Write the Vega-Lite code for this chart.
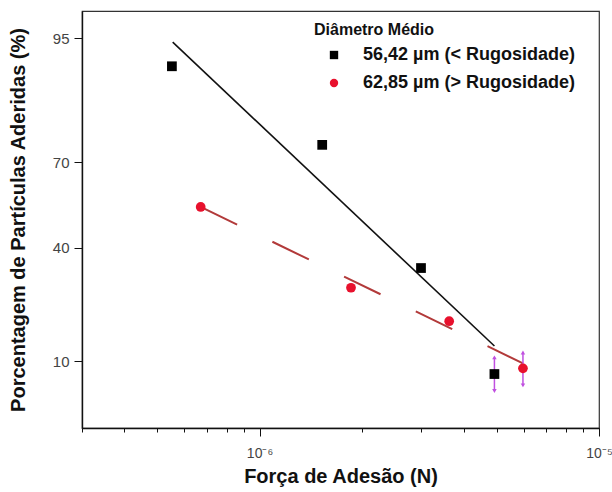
{
  "$schema": "https://vega.github.io/schema/vega-lite/v6.json",
  "width": 517,
  "height": 417,
  "autosize": {"type": "none"},
  "padding": {"left": 82, "top": 11, "right": 13, "bottom": 64},
  "background": "white",
  "config": {
    "font": "Liberation Sans",
    "view": {"stroke": "#333", "strokeWidth": 1.2},
    "legend": {
      "orient": "none",
      "legendX": 232,
      "legendY": 11,
      "titleFontSize": 16,
      "titleFontWeight": "bold",
      "titleColor": "#111",
      "labelFontSize": 18,
      "labelColor": "#111",
      "labelFontWeight": "bold",
      "labelLimit": 0,
      "symbolOffset": 11,
      "labelOffset": 20,
      "rowPadding": 10,
      "titlePadding": 8,
      "symbolSize": 70,
      "symbolStrokeWidth": 0
    }
  },
  "datasets": {
    "points": [
      {"serie": "56,42 µm (< Rugosidade)", "forca": 5.52e-7, "perc": 91.7},
      {"serie": "56,42 µm (< Rugosidade)", "forca": 1.53e-6, "perc": 74.9},
      {"serie": "56,42 µm (< Rugosidade)", "forca": 2.99e-6, "perc": 33.2},
      {"serie": "56,42 µm (< Rugosidade)", "forca": 4.92e-6, "perc": 8.2},
      {"serie": "62,85 µm (> Rugosidade)", "forca": 6.71e-7, "perc": 54.6},
      {"serie": "62,85 µm (> Rugosidade)", "forca": 1.86e-6, "perc": 27.1},
      {"serie": "62,85 µm (> Rugosidade)", "forca": 3.62e-6, "perc": 18.0},
      {"serie": "62,85 µm (> Rugosidade)", "forca": 5.97e-6, "perc": 9.0}
    ],
    "fits": [
      {"serie": "a", "forca": 5.55e-7, "perc": 94.6},
      {"serie": "a", "forca": 4.92e-6, "perc": 12.8},
      {"serie": "b", "forca": 6.71e-7, "perc": 54.6},
      {"serie": "b", "forca": 5.97e-6, "perc": 9.7}
    ],
    "errs": [
      {"forca": 4.92e-6, "lo": 6.1, "hi": 10.7},
      {"forca": 5.97e-6, "lo": 6.7, "hi": 11.6}
    ]
  },
  "layer": [
    {
      "data": {"name": "fits"},
      "transform": [{"filter": "datum.serie == 'a'"}],
      "mark": {"type": "line", "color": "#111", "strokeWidth": 1.6},
      "encoding": {
        "x": {"field": "forca", "type": "quantitative"},
        "y": {"field": "perc", "type": "quantitative"}
      }
    },
    {
      "data": {"name": "fits"},
      "transform": [{"filter": "datum.serie == 'b'"}],
      "mark": {"type": "line", "color": "#b23a3a", "strokeWidth": 2, "strokeDash": [40.5, 39.2]},
      "encoding": {
        "x": {"field": "forca", "type": "quantitative"},
        "y": {"field": "perc", "type": "quantitative"}
      }
    },
    {
      "data": {"name": "errs"},
      "mark": {"type": "rule", "color": "#c050e0", "strokeWidth": 1.5},
      "encoding": {
        "x": {"field": "forca", "type": "quantitative"},
        "y": {"field": "lo", "type": "quantitative"},
        "y2": {"field": "hi"}
      }
    },
    {
      "data": {"name": "errs"},
      "mark": {"type": "point", "shape": "triangle-up", "filled": true, "color": "#c050e0", "size": 20, "opacity": 1},
      "encoding": {
        "x": {"field": "forca", "type": "quantitative"},
        "y": {"field": "hi", "type": "quantitative"}
      }
    },
    {
      "data": {"name": "errs"},
      "mark": {"type": "point", "shape": "triangle-down", "filled": true, "color": "#c050e0", "size": 20, "opacity": 1},
      "encoding": {
        "x": {"field": "forca", "type": "quantitative"},
        "y": {"field": "lo", "type": "quantitative"}
      }
    },
    {
      "data": {"name": "points"},
      "mark": {"type": "point", "filled": true, "opacity": 1, "size": 95},
      "encoding": {
        "x": {
          "field": "forca",
          "type": "quantitative",
          "scale": {"type": "log", "domain": [3e-7, 1e-5], "nice": false},
          "axis": {
            "values": [3e-7, 4e-7, 5e-7, 6e-7, 7e-7, 8e-7, 9e-7, 1e-6, 2e-6, 3e-6, 4e-6, 5e-6, 6e-6, 7e-6, 8e-6, 9e-6, 1e-5],
            "labelExpr": "abs(datum.value - 1e-6) < 1e-9 ? '10⁻⁶' : (abs(datum.value - 1e-5) < 1e-9 ? '10⁻⁵' : '')",
            "tickSize": {"condition": {"test": "abs(datum.value - 1e-6) < 1e-9 || abs(datum.value - 1e-5) < 1e-9", "value": 8}, "value": 4},
            "labelOverlap": false,
            "labelBound": false,
            "labelFlush": false,
            "labelBaseline": "top",
            "grid": false,
            "domainColor": "#111",
            "domainWidth": 1.4,
            "tickColor": "#111",
            "labelColor": "#444",
            "labelFontSize": 14,
            "labelPadding": 10,
            "title": "Força de Adesão (N)",
            "titleFontSize": 20,
            "titleFontWeight": "bold",
            "titleColor": "#111",
            "titlePadding": 6
          }
        },
        "y": {
          "field": "perc",
          "type": "quantitative",
          "scale": {
            "type": "linear",
            "domain": [2.95, 5, 7, 10, 15, 20, 30, 40, 50, 60, 70, 80, 85, 90, 93, 95, 96, 97.08],
            "range": [417, 390.2, 371.6, 350.2, 323.1, 301.6, 266.6, 236.7, 208.8, 180.9, 151.0, 116.0, 94.5, 67.4, 46.0, 27.4, 15.7, 0],
            "zero": false,
            "nice": false
          },
          "axis": {
            "values": [10, 40, 70, 95],
            "grid": false,
            "tickSize": 8,
            "domainColor": "#111",
            "domainWidth": 1.4,
            "tickColor": "#111",
            "labelColor": "#444",
            "labelFontSize": 15,
            "labelPadding": 5,
            "title": "Porcentagem de Partículas Aderidas (%)",
            "titleFontSize": 20,
            "titleFontWeight": "bold",
            "titleColor": "#111",
            "titlePadding": 24
          }
        },
        "color": {
          "field": "serie",
          "type": "nominal",
          "title": "Diâmetro Médio",
          "scale": {"domain": ["56,42 µm (< Rugosidade)", "62,85 µm (> Rugosidade)"], "range": ["#000000", "#e8112d"]}
        },
        "shape": {
          "field": "serie",
          "type": "nominal",
          "title": "Diâmetro Médio",
          "scale": {"domain": ["56,42 µm (< Rugosidade)", "62,85 µm (> Rugosidade)"], "range": ["square", "circle"]}
        }
      }
    }
  ]
}
